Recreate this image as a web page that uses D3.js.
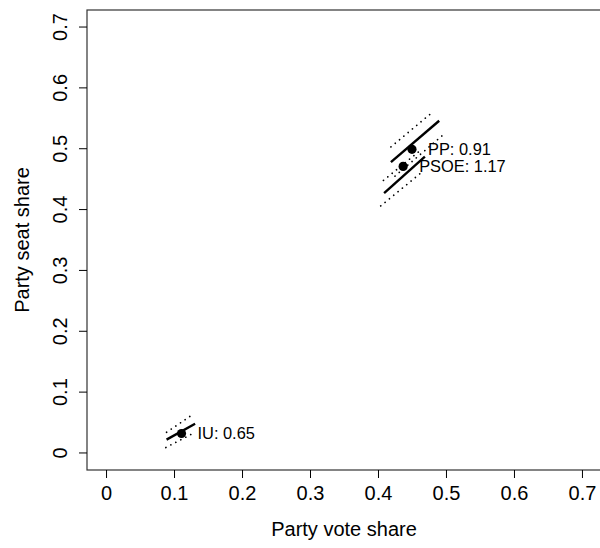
<!DOCTYPE html>
<html>
  <head>
    <script src="https://d3js.org/d3.v7.min.js" charset="utf-8"></script>
    <style>
      body { margin: 0; background: #fff; }
      text { font-family: "Liberation Sans", Arial, sans-serif; fill: #000; }
    </style>
  </head>
  <body>
    <svg id="chart"></svg>
    <script>
      // party points and labels
      const parties = ["PP", "PSOE", "IU"]
      const voteShare = [0.450, 0.437, 0.111]
      const seatShare = [0.499, 0.471, 0.032]
      const labels = ["PP: 0.91", "PSOE: 1.17", "IU: 0.65"]

      // seat-vote curve around each party (solid), with dotted bands
      const curveMid = [
        [[0.419, 0.478], [0.490, 0.546]],
        [[0.409, 0.427], [0.469, 0.487]],
        [[0.089, 0.022], [0.131, 0.048]]
      ]
      const curveHigh = [
        [[0.419, 0.503], [0.479, 0.559]],
        [[0.408, 0.448], [0.462, 0.497]],
        [[0.089, 0.034], [0.126, 0.062]]
      ]
      const curveLow = [
        [[0.425, 0.455], [0.495, 0.522]],
        [[0.404, 0.406], [0.464, 0.461]],
        [[0.088, 0.009], [0.126, 0.031]]
      ]

      const xTicks = [0, 0.1, 0.2, 0.3, 0.4, 0.5, 0.6, 0.7]
      const yTicks = [0, 0.1, 0.2, 0.3, 0.4, 0.5, 0.6, 0.7]

      const W = 600, H = 548
      const margin = {top: 10, right: -1, bottom: 78, left: 87},
          width = W - margin.left - margin.right,
          height = H - margin.top - margin.bottom
      const axisFont = 20, labelFont = 16.4

      const svg = d3.select("#chart").attr("width", W).attr("height", H)

      var xScale = d3.scaleLinear().domain([-0.028, 0.728]).range([0, width])
      var yScale = d3.scaleLinear().domain([-0.028, 0.728]).range([height, 0])

      const g = svg.append("g").attr("transform", `translate(${margin.left}, ${margin.top})`)

      // box
      g.append("rect").attr("x", 0).attr("y", 0).attr("width", width).attr("height", height)
        .attr("fill", "none").attr("stroke", "#333").attr("stroke-width", 1.2)

      var xAxis = d3.axisBottom(xScale).tickValues(xTicks).tickSize(8).tickPadding(5)
        .tickFormat(d => d3.format("")(d))
      var yAxis = d3.axisLeft(yScale).tickValues(yTicks).tickSize(8)
        .tickFormat(d => d3.format("")(d))

      const xg = g.append("g").attr("transform", `translate(0, ${height})`).call(xAxis)
      xg.select(".domain").remove()
      xg.selectAll("text").attr("font-size", axisFont).attr("dy", "0.85em")

      const yg = g.append("g").call(yAxis)
      yg.select(".domain").remove()
      yg.selectAll(".tick").attr("transform", null)
      yg.selectAll(".tick line").attr("transform", d => `translate(0, ${yScale(d)})`)
      yg.selectAll("text").attr("font-size", axisFont)
        .attr("text-anchor", "middle")
        .attr("x", 0).attr("y", 0).attr("dy", 0)
        .attr("dominant-baseline", "central")
        .attr("transform", d => `translate(-27, ${yScale(d)}) rotate(-90)`)

      // axis titles
      svg.append("text").attr("x", margin.left + width / 2).attr("y", 529)
        .attr("text-anchor", "middle").attr("dominant-baseline", "central")
        .attr("font-size", axisFont).text("Party vote share")
      svg.append("text").attr("transform", `translate(22, ${margin.top + height / 2}) rotate(-90)`)
        .attr("text-anchor", "middle").attr("dominant-baseline", "central")
        .attr("font-size", axisFont).text("Party seat share")

      var lineMaker = d3.line().x(d => xScale(d[0])).y(d => yScale(d[1]))

      g.append("g").selectAll("path").data(curveHigh.concat(curveLow)).enter()
        .append("path").attr("d", d => lineMaker(d))
        .attr("fill", "none").attr("stroke", "#000").attr("stroke-width", 1.7)
        .attr("stroke-linecap", "round").attr("stroke-dasharray", "0.1,5.5")

      g.append("g").selectAll("path").data(curveMid).enter()
        .append("path").attr("d", d => lineMaker(d))
        .attr("fill", "none").attr("stroke", "#000").attr("stroke-width", 2.4)

      g.append("g").selectAll("circle").data(parties).enter()
        .append("circle")
        .attr("r", 4.6)
        .attr("cx", (d, i) => xScale(voteShare[i]))
        .attr("cy", (d, i) => yScale(seatShare[i]))
        .attr("fill", "#000")

      g.append("g").selectAll("text").data(labels).enter()
        .append("text")
        .attr("x", (d, i) => xScale(voteShare[i]) + 16)
        .attr("y", (d, i) => yScale(seatShare[i]))
        .attr("dominant-baseline", "central")
        .attr("font-size", labelFont)
        .text(d => d)
    </script>
  </body>
</html>
